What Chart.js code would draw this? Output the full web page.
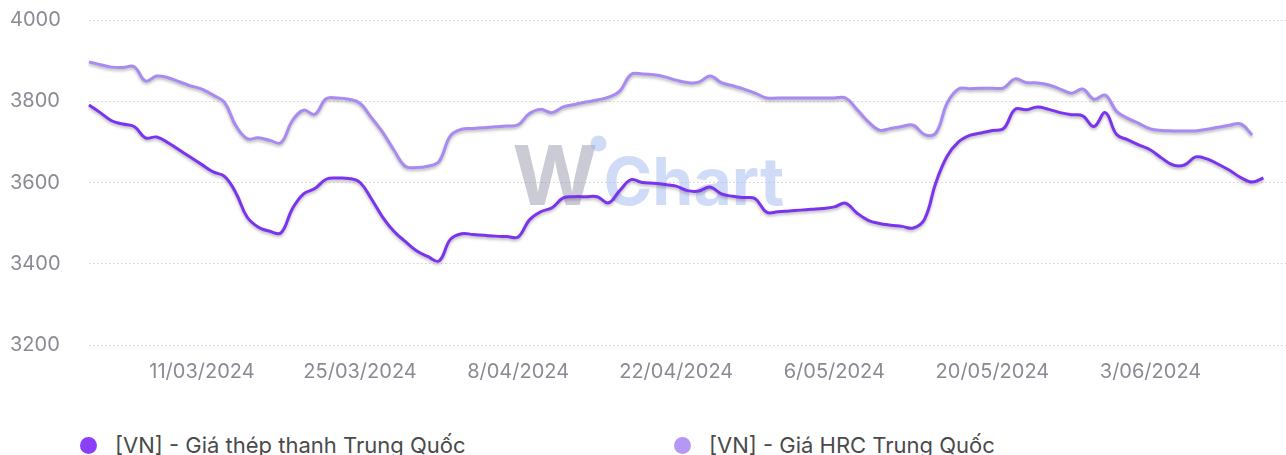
<!DOCTYPE html>
<html>
<head>
<meta charset="utf-8">
<script src="https://cdn.jsdelivr.net/npm/chart.js@4.4.1/dist/chart.umd.min.js"></script>
<style>
    body { margin: 0; background: #fff; font-family: Inter, 'Noto Sans', sans-serif; overflow: hidden; }
    .chart-box { position: relative; width: 1286px; height: 400px; }
    .legend { position: relative; height: 55px; }
    .legend-item { position: absolute; top: 32px; display: flex; align-items: center; font-size: 22px; color: #4a4a4a; }
    .legend-dot { width: 17px; height: 17px; border-radius: 50%; margin-right: 18px; }
</style>
</head>
<body>
<div class="chart-box"><canvas id="mainChart"></canvas></div>
<div class="legend" id="legend"></div>
<script>
// Daily categories, 1/03/2024 .. 15/06/2024
const dates = [];
for (let i = 0; i < 107; i++) {
    const d = new Date(2024, 2, 1 + i);
    dates.push(`${d.getDate()}/${String(d.getMonth() + 1).padStart(2, '0')}/${d.getFullYear()}`);
}

// Dates that get an axis label
const tickLabels = ['11/03/2024', '25/03/2024', '8/04/2024', '22/04/2024', '6/05/2024', '20/05/2024', '3/06/2024'];
const yTicks = [3200, 3400, 3600, 3800, 4000];

const seriesNames = ['[VN] - Giá thép thanh Trung Quốc', '[VN] - Giá HRC Trung Quốc'];

// [VN] - Giá thép thanh Trung Quốc
const rebarPoints = [
    3791, 3772, 3752, 3744, 3738, 3710, 3712, 3698, 3680, 3662,
    3644, 3626, 3615, 3575, 3515, 3490, 3480, 3476, 3535, 3572,
    3585, 3608, 3611, 3610, 3600, 3560, 3515, 3480, 3455, 3432,
    3418, 3407, 3460, 3474, 3472, 3470, 3468, 3467, 3466, 3508,
    3528, 3538, 3562, 3565, 3565, 3565, 3550, 3580, 3607, 3600,
    3598, 3595, 3591, 3580, 3579, 3589, 3572, 3566, 3563, 3560,
    3527, 3528, 3530, 3532, 3534, 3536, 3540, 3549, 3525, 3507,
    3499, 3495, 3492, 3488, 3510, 3600, 3665, 3700, 3716, 3722,
    3728, 3733, 3780, 3779, 3786, 3780, 3772, 3767, 3764, 3738,
    3772, 3718, 3705, 3692, 3680, 3660, 3643, 3643, 3663, 3658,
    3645, 3630, 3612, 3601, 3611
];

// [VN] - Giá HRC Trung Quốc
const hrcPoints = [
    3897, 3890, 3884, 3883, 3885, 3850, 3862, 3858, 3848, 3838,
    3830, 3815, 3797, 3740, 3708, 3710, 3704, 3698, 3752, 3778,
    3768, 3806, 3808, 3805, 3795, 3760, 3724, 3680, 3640, 3637,
    3640, 3652, 3715, 3731, 3733, 3735, 3737, 3739, 3742, 3770,
    3780, 3772, 3786, 3792, 3798, 3803, 3810, 3825, 3866, 3867,
    3865, 3860, 3852, 3846, 3847, 3862, 3846, 3838, 3830, 3820,
    3808, 3808, 3808, 3808, 3808, 3808, 3808, 3808, 3780, 3750,
    3729, 3733, 3738, 3741, 3718, 3722, 3796, 3830, 3831, 3832,
    3832, 3833, 3855, 3846, 3845, 3840, 3830, 3820, 3830, 3805,
    3815, 3775, 3758, 3745, 3732, 3728, 3727, 3727, 3727, 3731,
    3736, 3741, 3744, 3717
];

const colors = ['#7a33ee', '#a88af2'];
const dotColors = ['#8b3ffb', '#b797f5'];

// Soft grey drop shadow under the lines
const lineShadow = {
    id: 'lineShadow',
    beforeDatasetsDraw(chart) {
        const ctx = chart.ctx;
        ctx.save();
        ctx.shadowColor = 'rgba(60, 60, 60, 0.35)';
        ctx.shadowBlur = 3;
        ctx.shadowOffsetY = 2;
    },
    afterDatasetsDraw(chart) {
        chart.ctx.restore();
    }
};

// Faint WiChart watermark behind the lines
const watermark = {
    id: 'watermark',
    beforeDatasetsDraw(chart) {
        const { ctx, chartArea } = chart;
        const cx = (chartArea.left + chartArea.right) / 2;
        const cy = (chartArea.top + chartArea.bottom) / 2;
        ctx.save();
        ctx.textBaseline = 'alphabetic';
        ctx.font = 'bold 82px Inter, sans-serif';
        ctx.fillStyle = 'rgba(140, 140, 165, 0.45)';
        ctx.fillText('W', cx - 175, cy + 22);
        ctx.fillStyle = 'rgba(150, 175, 240, 0.45)';
        ctx.beginPath();
        ctx.arc(cx - 89, cy - 39, 8, 0, Math.PI * 2);
        ctx.fill();
        ctx.font = 'bold 66px Inter, sans-serif';
        ctx.fillText('Chart', cx - 84, cy + 22);
        ctx.restore();
    }
};

const ctx = document.getElementById('mainChart').getContext('2d');
new Chart(ctx, {
    type: 'line',
    data: {
        labels: dates,
        datasets: [
            {
                label: seriesNames[0],
                data: rebarPoints,
                borderColor: colors[0],
                borderWidth: 3,
                pointRadius: 0,
                tension: 0.4,
                fill: false
            },
            {
                label: seriesNames[1],
                data: hrcPoints,
                borderColor: colors[1],
                borderWidth: 3,
                pointRadius: 0,
                tension: 0.4,
                fill: false
            }
        ]
    },
    options: {
        responsive: true,
        maintainAspectRatio: false,
        animation: false,
        layout: { padding: { top: 20, left: 10, right: 0, bottom: 0 } },
        plugins: {
            legend: { display: false },
            tooltip: { enabled: false }
        },
        scales: {
            x: {
                border: { display: false },
                grid: { display: false, drawTicks: false },
                afterFit: (scale) => { scale.height = 55; },
                ticks: {
                    autoSkip: false,
                    maxRotation: 0,
                    padding: 15,
                    color: '#8a8a94',
                    font: { family: 'Inter', size: 20 },
                    callback: (value, i) => tickLabels.includes(dates[i]) ? dates[i] : null
                }
            },
            y: {
                min: 3200,
                max: 4000,
                border: { display: false, dash: [1.5, 2.5] },
                afterFit: (scale) => { scale.width = 79; },
                afterBuildTicks: (scale) => { scale.ticks = yTicks.map(v => ({ value: v })); },
                grid: {
                    color: '#cfcfcf',
                    lineWidth: 1,
                    drawTicks: false
                },
                ticks: {
                    crossAlign: 'far',
                    padding: 0,
                    color: '#8a8a94',
                    font: { family: 'Inter', size: 20 },
                    callback: (value) => String(value)
                }
            }
        }
    },
    plugins: [watermark, lineShadow]
});

// Custom legend under the chart
const legend = document.getElementById('legend');
const legendLeft = [80, 674];
seriesNames.forEach((name, i) => {
    const item = document.createElement('div');
    item.className = 'legend-item';
    item.style.left = legendLeft[i] + 'px';
    item.innerHTML = `<span class="legend-dot" style="background:${dotColors[i]}"></span>${name}`;
    legend.appendChild(item);
});
</script>
</body>
</html>
